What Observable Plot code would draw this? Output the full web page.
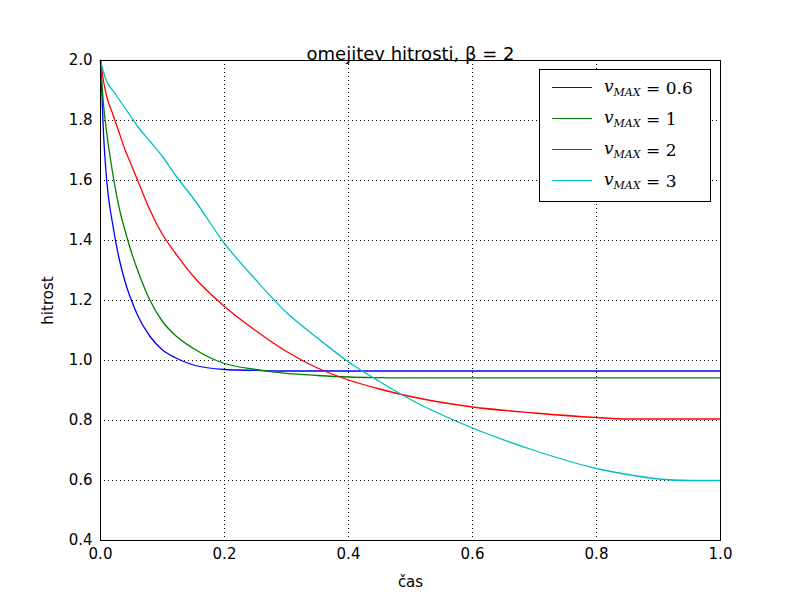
<!DOCTYPE html>
<html><head><meta charset="utf-8">
<script src="https://cdn.jsdelivr.net/npm/d3@7"></script>
<script src="https://cdn.jsdelivr.net/npm/@observablehq/plot@0.6"></script>
<style>
body{margin:0;background:#fff;font-family:"DejaVu Sans",sans-serif}
#wrap{position:relative;width:800px;height:600px}
#legend{position:absolute;left:539px;top:69px;width:172px;height:133px;border:1px solid #000;background:#fff;box-sizing:border-box;font-family:"DejaVu Serif",serif;font-size:17px}
.row{position:absolute;left:12px;display:flex;align-items:center}
.row span.l{display:inline-block;width:40px;height:0;border-top:1.3px solid;margin-right:12px}
.row i sub{font-size:11px}
</style></head>
<body><div id="wrap"><div id="chart"></div><div id="legend"></div></div>
<script>
const series = ["0.6", "1", "2", "3"];
const colors = ["#0000ff", "#008000", "#ff0000", "#00bfbf"];
const t = [0, 0.005, 0.01, 0.02, 0.03, 0.04, 0.05, 0.06, 0.08, 0.1, 0.12, 0.15, 0.2, 0.25, 0.3, 0.35, 0.4, 0.45, 0.5, 0.6, 0.7, 0.8, 0.85, 0.9, 0.95, 1.0];
const v06 = [2.0, 1.75, 1.6, 1.45, 1.34, 1.26, 1.2, 1.15, 1.08, 1.035, 1.01, 0.985, 0.97, 0.967, 0.965, 0.965, 0.965, 0.965, 0.965, 0.965, 0.965, 0.965, 0.965, 0.965, 0.965, 0.965];
const v1 = [2.0, 1.85, 1.76, 1.62, 1.51, 1.43, 1.36, 1.3, 1.2, 1.13, 1.085, 1.04, 0.99, 0.97, 0.957, 0.95, 0.945, 0.943, 0.942, 0.942, 0.942, 0.942, 0.942, 0.942, 0.942, 0.942];
const v2 = [2.0, 1.93, 1.88, 1.82, 1.76, 1.7, 1.65, 1.6, 1.5, 1.42, 1.36, 1.28, 1.18, 1.1, 1.03, 0.975, 0.935, 0.905, 0.88, 0.845, 0.825, 0.81, 0.805, 0.805, 0.805, 0.805];
const v3 = [2.0, 1.96, 1.93, 1.9, 1.87, 1.84, 1.81, 1.78, 1.73, 1.68, 1.62, 1.54, 1.39, 1.27, 1.16, 1.075, 0.995, 0.93, 0.87, 0.775, 0.7, 0.64, 0.62, 0.605, 0.6, 0.6];
const values = [v06, v1, v2, v3];
const xTicks = [0, 0.2, 0.4, 0.6, 0.8, 1.0];
const yTicks = [0.4, 0.6, 0.8, 1.0, 1.2, 1.4, 1.6, 1.8, 2.0];

const data = series.flatMap((s, i) => t.map((x, j) => ({s, x, y: values[i][j]})));

const chart = Plot.plot({
  width: 800, height: 600,
  marginLeft: 100, marginRight: 80, marginTop: 60, marginBottom: 60,
  style: {fontFamily: "DejaVu Sans", fontSize: "15px", color: "#000"},
  x: {domain: [0, 1], ticks: xTicks, tickFormat: d3.format(".1f"), tickSize: 0, tickPadding: 8, label: "čas", labelArrow: "none", labelAnchor: "center", labelOffset: 46},
  y: {domain: [0.4, 2.0], ticks: yTicks, tickFormat: d3.format(".1f"), tickSize: 0, tickPadding: 8, label: "hitrost", labelArrow: "none", labelAnchor: "center", labelOffset: 58},
  color: {domain: series, range: colors},
  marks: [
    Plot.gridX(xTicks, {stroke: "#000", strokeOpacity: 1, strokeDasharray: "1,3"}),
    Plot.gridY(yTicks, {stroke: "#000", strokeOpacity: 1, strokeDasharray: "1,3"}),
    Plot.line(data, {x: "x", y: "y", z: "s", stroke: "s", strokeWidth: 1.3, curve: "monotone-x"}),
    Plot.frame({stroke: "#000"}),
    Plot.text(["omejitev hitrosti, β = 2"], {frameAnchor: "top", dy: -13, fontSize: 18, fill: "#000"})
  ]
});
document.getElementById("chart").append(chart);

const leg = document.getElementById("legend");
series.forEach((s, i) => {
  const r = document.createElement("div");
  r.className = "row";
  r.style.top = (6 + i * 31) + "px";
  r.innerHTML = `<span class="l" style="border-color:${colors[i]}"></span><i>v<sub>MAX</sub></i>&nbsp;=&nbsp;${s}`;
  leg.append(r);
});
</script></body></html>
